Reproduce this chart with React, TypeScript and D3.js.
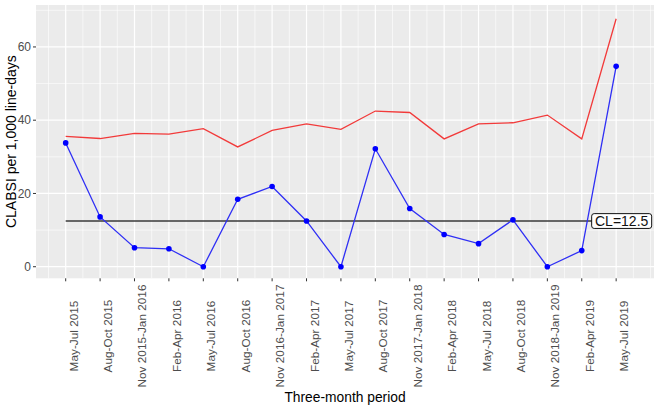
import React from "react";
import * as d3 from "d3";

const periods = [
  "May-Jul 2015", "Aug-Oct 2015", "Nov 2015-Jan 2016", "Feb-Apr 2016", "May-Jul 2016",
  "Aug-Oct 2016", "Nov 2016-Jan 2017", "Feb-Apr 2017", "May-Jul 2017", "Aug-Oct 2017",
  "Nov 2017-Jan 2018", "Feb-Apr 2018", "May-Jul 2018", "Aug-Oct 2018", "Nov 2018-Jan 2019",
  "Feb-Apr 2019", "May-Jul 2019",
];
const rate = [33.8, 13.6, 5.2, 4.9, 0, 18.4, 21.9, 12.5, 0, 32.2, 15.9, 8.8, 6.3, 12.8, 0, 4.4, 54.7];
const ucl = [35.6, 35.0, 36.4, 36.2, 37.7, 32.7, 37.2, 39.0, 37.5, 42.5, 42.1, 34.9, 39.0, 39.3, 41.4, 34.9, 67.7];
const centerLine = 12.5;
const yTicks = [0, 20, 40, 60];
const yMinor = [10, 30, 50, 70];

const W = 660, H = 410;
const P = { left: 36, right: 654, top: 5, bottom: 278.3 };
const FONT = "'Liberation Sans', Arial, sans-serif";

export default function App() {
  const x = d3.scaleLinear().domain([-0.863, 17.1]).range([P.left, P.right]);
  const y = d3.scaleLinear().domain([-3.16, 71.45]).range([P.bottom, P.top]);
  const idx = periods.map((_, i) => i);
  const xMinor: number[] = [];
  for (let k = -2; k <= 36; k++) {
    const v = k / 2;
    if (v >= -0.863 && v <= 17.1 && !(Number.isInteger(v) && v >= 0 && v <= 16)) xMinor.push(v);
  }
  const line = d3.line<number>().x((_, i) => x(i)).y((d) => y(d));
  const labelX = x(16.16);
  const labelY = y(centerLine);
  return (
    <svg width={W} height={H} style={{ position: "absolute", left: 0, top: 0, background: "#fff" }} fontFamily={FONT}>
      <rect x={P.left} y={P.top} width={P.right - P.left} height={P.bottom - P.top} fill="#EBEBEB" />
      {yMinor.map((v) => (
        <line key={"ym" + v} x1={P.left} x2={P.right} y1={y(v)} y2={y(v)} stroke="#fff" strokeWidth={0.6} />
      ))}
      {xMinor.map((v) => (
        <line key={"xm" + v} x1={x(v)} x2={x(v)} y1={P.top} y2={P.bottom} stroke="#fff" strokeWidth={0.6} />
      ))}
      {yTicks.map((v) => (
        <line key={"yM" + v} x1={P.left} x2={P.right} y1={y(v)} y2={y(v)} stroke="#fff" strokeWidth={1.2} />
      ))}
      {idx.map((i) => (
        <line key={"xM" + i} x1={x(i)} x2={x(i)} y1={P.top} y2={P.bottom} stroke="#fff" strokeWidth={1.2} />
      ))}
      <path d={line(ucl) || ""} fill="none" stroke="#F23A3A" strokeWidth={1.3} />
      <line x1={x(0)} x2={x(16)} y1={y(centerLine)} y2={y(centerLine)} stroke="#3a3a3a" strokeWidth={1.6} />
      <path d={line(rate) || ""} fill="none" stroke="#2F2FF5" strokeWidth={1.3} />
      {rate.map((v, i) => (
        <circle key={"p" + i} cx={x(i)} cy={y(v)} r={2.8} fill="#0000FF" />
      ))}
      <rect x={labelX - 30} y={labelY - 7.3} width={60} height={14.8} rx={2.5} fill="#fff" stroke="#111" strokeWidth={1} />
      <text x={labelX} y={labelY} dy="0.36em" textAnchor="middle" fontSize={14} fill="#111">
        {"CL=" + centerLine}
      </text>
      {yTicks.map((v) => (
        <g key={"yt" + v}>
          <line x1={P.left - 3} x2={P.left} y1={y(v)} y2={y(v)} stroke="#333" strokeWidth={1} />
          <text x={P.left - 5} y={y(v)} dy="0.35em" textAnchor="end" fontSize={12} fill="#4D4D4D">
            {v}
          </text>
        </g>
      ))}
      {periods.map((p, i) => (
        <g key={"xt" + i}>
          <line x1={x(i)} x2={x(i)} y1={P.bottom} y2={P.bottom + 3} stroke="#333" strokeWidth={1} />
          <text
            transform={`translate(${x(i) + 12},336) rotate(-90)`}
            textAnchor="middle"
            fontSize={11.8}
            fill="#4D4D4D"
          >
            {p}
          </text>
        </g>
      ))}
      <text x={(P.left + P.right) / 2} y={402} textAnchor="middle" fontSize={13.8} fill="#000">
        Three-month period
      </text>
      <text
        transform={`translate(16,${(P.top + P.bottom) / 2}) rotate(-90)`}
        textAnchor="middle"
        fontSize={14}
        fill="#000"
      >
        CLABSI per 1,000 line-days
      </text>
    </svg>
  );
}
